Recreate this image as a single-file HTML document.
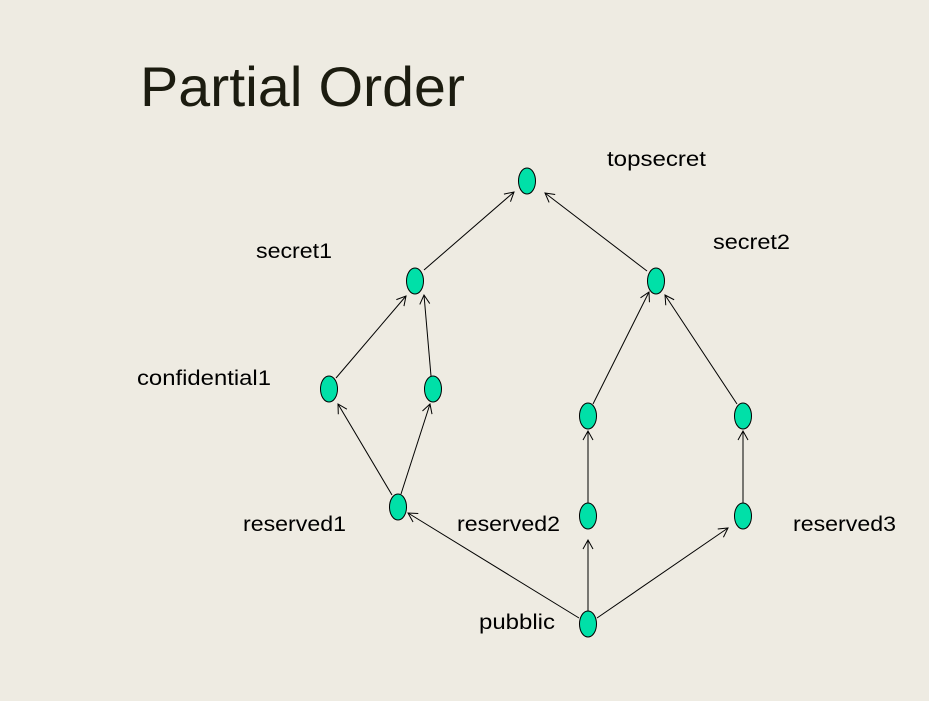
<!DOCTYPE html>
<html><head><style>
html,body{margin:0;padding:0;background:#EEEBE2;}
svg{display:block;}
text{font-family:"Liberation Sans",sans-serif;fill:#000;}
</style></head><body>
<svg width="929" height="701" viewBox="0 0 929 701">
<defs><marker id="a" markerWidth="12" markerHeight="12" refX="10" refY="6" orient="auto" markerUnits="userSpaceOnUse"><path d="M1,1 L10,6 L1,11" fill="none" stroke="#000" stroke-width="1"/></marker></defs>
<text x="140" y="106" font-size="56" textLength="325" lengthAdjust="spacingAndGlyphs" style="fill:#1c1c10">Partial Order</text>
<g stroke="#000" stroke-width="1" marker-end="url(#a)">
<line x1="579" y1="618" x2="408" y2="513"/>
<line x1="588" y1="611" x2="588" y2="540"/>
<line x1="597" y1="618" x2="728" y2="528"/>
<line x1="743" y1="503" x2="743" y2="431"/>
<line x1="588" y1="503" x2="588" y2="431"/>
<line x1="593" y1="404" x2="649" y2="292"/>
<line x1="737" y1="404" x2="665" y2="295"/>
<line x1="647" y1="271" x2="545" y2="193"/>
<line x1="424" y1="270" x2="514" y2="192"/>
<line x1="336" y1="378" x2="406" y2="296"/>
<line x1="431" y1="376" x2="424" y2="295"/>
<line x1="392" y1="495" x2="338" y2="404"/>
<line x1="401" y1="494" x2="430" y2="404"/>
</g>
<g fill="#00E0A8" stroke="#000" stroke-width="1">
<ellipse cx="527" cy="181" rx="8.5" ry="13"/>
<ellipse cx="415" cy="281" rx="8.5" ry="13"/>
<ellipse cx="656" cy="281" rx="8.5" ry="13"/>
<ellipse cx="329" cy="389" rx="8.5" ry="13"/>
<ellipse cx="433" cy="389" rx="8.5" ry="13"/>
<ellipse cx="588" cy="416" rx="8.5" ry="13"/>
<ellipse cx="743" cy="416" rx="8.5" ry="13"/>
<ellipse cx="398" cy="507" rx="8.5" ry="13"/>
<ellipse cx="588" cy="516" rx="8.5" ry="13"/>
<ellipse cx="743" cy="516" rx="8.5" ry="13"/>
<ellipse cx="588" cy="624" rx="8.5" ry="13"/>
</g>
<g font-size="21" lengthAdjust="spacingAndGlyphs">
<text x="607" y="166" textLength="99" lengthAdjust="spacingAndGlyphs">topsecret</text>
<text x="256" y="258" textLength="76" lengthAdjust="spacingAndGlyphs">secret1</text>
<text x="713" y="249" textLength="77" lengthAdjust="spacingAndGlyphs">secret2</text>
<text x="137" y="385" textLength="134" lengthAdjust="spacingAndGlyphs">confidential1</text>
<text x="243" y="531" textLength="103" lengthAdjust="spacingAndGlyphs">reserved1</text>
<text x="457" y="531" textLength="103" lengthAdjust="spacingAndGlyphs">reserved2</text>
<text x="793" y="531" textLength="103" lengthAdjust="spacingAndGlyphs">reserved3</text>
<text x="479" y="629" textLength="76" lengthAdjust="spacingAndGlyphs">pubblic</text>
</g>
</svg>
</body></html>
